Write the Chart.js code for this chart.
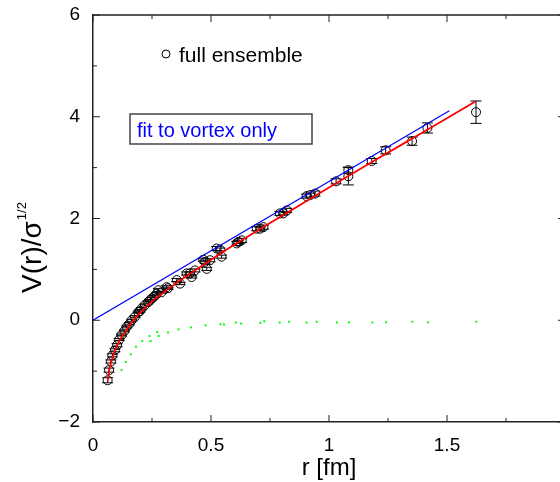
<!DOCTYPE html>
<html>
<head>
<meta charset="utf-8">
<script src="https://cdn.jsdelivr.net/npm/chart.js@4.4.0/dist/chart.umd.min.js"></script>
<style>
  html, body { margin: 0; padding: 0; background: #fff; overflow: hidden; }
  #wrap { width: 580px; height: 482px; }
</style>
</head>
<body>
<div id="wrap"><canvas id="chart" width="580" height="482"></canvas></div>
<script>
const FONT = '"Liberation Sans", Arial, Helvetica, sans-serif';

// full ensemble: r [fm], V(r)/sqrt(sigma), error
const rData = [0.062, 0.068, 0.076, 0.082, 0.093, 0.102, 0.111, 0.121, 0.133, 0.143,
  0.154, 0.164, 0.178, 0.192, 0.199, 0.206, 0.22, 0.234, 0.242, 0.249,
  0.26, 0.27, 0.277, 0.29, 0.312, 0.318, 0.355, 0.369, 0.397, 0.41,
  0.418, 0.432, 0.467, 0.475, 0.482, 0.496, 0.524, 0.538, 0.545, 0.609,
  0.616, 0.63, 0.694, 0.708, 0.722, 0.792, 0.806, 0.821, 0.905, 0.92,
  0.941, 1.03, 1.082, 1.082, 1.181, 1.24, 1.352, 1.417, 1.623];
const vData = [-1.18, -0.98, -0.81, -0.69, -0.59, -0.49, -0.38, -0.29, -0.21, -0.13,
  -0.07, 0.0, 0.07, 0.16, 0.18, 0.23, 0.30, 0.36, 0.39, 0.43,
  0.47, 0.52, 0.59, 0.55, 0.65, 0.63, 0.79, 0.72, 0.92, 0.92,
  0.85, 0.98, 1.19, 1.15, 1.01, 1.18, 1.41, 1.39, 1.25, 1.51,
  1.54, 1.57, 1.80, 1.80, 1.83, 2.10, 2.10, 2.16, 2.44, 2.46,
  2.49, 2.73, 2.95, 2.83, 3.13, 3.34, 3.52, 3.78, 4.09];
const vErr = [0.05, 0.04, 0.03, 0.03, 0.03, 0.03, 0.02, 0.02, 0.02, 0.02,
  0.02, 0.02, 0.02, 0.02, 0.02, 0.02, 0.02, 0.02, 0.02, 0.02,
  0.02, 0.02, 0.03, 0.02, 0.03, 0.02, 0.03, 0.02, 0.03, 0.03,
  0.02, 0.03, 0.03, 0.03, 0.03, 0.03, 0.04, 0.03, 0.03, 0.04,
  0.03, 0.04, 0.04, 0.03, 0.04, 0.04, 0.03, 0.04, 0.04, 0.04,
  0.05, 0.05, 0.06, 0.17, 0.05, 0.07, 0.08, 0.10, 0.22];

// difference points (green)
const rDiff = [0.121, 0.139, 0.16, 0.182, 0.209, 0.239, 0.244, 0.272, 0.278, 0.318,
  0.363, 0.415, 0.477, 0.54, 0.555, 0.605, 0.628, 0.709, 0.726, 0.791,
  0.83, 0.905, 0.948, 1.034, 1.085, 1.184, 1.242, 1.353, 1.419, 1.624];
const vDiff = [-0.98, -0.82, -0.67, -0.52, -0.41, -0.31, -0.41, -0.23, -0.31, -0.24,
  -0.18, -0.14, -0.10, -0.08, -0.085, -0.045, -0.065, -0.05, -0.02, -0.045,
  -0.03, -0.045, -0.03, -0.045, -0.04, -0.045, -0.04, -0.03, -0.04, -0.03];

// full fit curve (red)
const fitR = [0.062, 0.07, 0.08, 0.09, 0.10, 0.12, 0.14, 0.16, 0.18, 0.20,
  0.25, 0.30, 0.35, 0.40, 0.50, 0.60, 0.70, 0.80, 0.90, 1.00, 1.20, 1.40, 1.62];
const fitV = [-1.20, -0.95, -0.78, -0.63, -0.52, -0.34, -0.20, -0.07, 0.05, 0.15,
  0.37, 0.55, 0.72, 0.88, 1.19, 1.49, 1.77, 2.05, 2.33, 2.61, 3.16, 3.70, 4.30];

// fit to vortex only (blue)
const vortexR = [0, 1.51];
const vortexV = [0, 4.12];

const xTicks = [0, 0.5, 1, 1.5, 2];
const xMinor = [0.25, 0.75, 1.25, 1.75];
const yTicks = [-2, 0, 2, 4, 6];
const yMinor = [-1, 1, 3, 5];

const pts = (xs, ys) => xs.map((x, i) => ({ x: x, y: ys[i] }));

const decorations = {
  id: 'decorations',
  beforeDatasetsDraw(chart) {
    const { ctx, scales: { x, y } } = chart;
    // error bars
    ctx.save();
    ctx.strokeStyle = '#000';
    ctx.lineWidth = 1;
    rData.forEach((r, i) => {
      const px = x.getPixelForValue(r);
      const top = y.getPixelForValue(vData[i] + vErr[i]);
      const bot = y.getPixelForValue(vData[i] - vErr[i]);
      ctx.beginPath();
      ctx.moveTo(px, top); ctx.lineTo(px, bot);
      ctx.moveTo(px - 5.5, top); ctx.lineTo(px + 5.5, top);
      ctx.moveTo(px - 5.5, bot); ctx.lineTo(px + 5.5, bot);
      ctx.stroke();
    });
    ctx.restore();
  },
  afterDraw(chart) {
    const { ctx, chartArea: a, scales: { x, y } } = chart;
    ctx.save();
    ctx.strokeStyle = '#222';
    ctx.lineWidth = 1.5;
    // frame top / right
    ctx.beginPath();
    ctx.moveTo(a.left, a.top); ctx.lineTo(a.right, a.top); ctx.lineTo(a.right, a.bottom);
    ctx.stroke();
    // inward ticks
    ctx.lineWidth = 1;
    ctx.beginPath();
    const tickX = (v, len) => {
      const p = x.getPixelForValue(v);
      ctx.moveTo(p, a.bottom); ctx.lineTo(p, a.bottom - len);
      ctx.moveTo(p, a.top); ctx.lineTo(p, a.top + len);
    };
    const tickY = (v, len) => {
      const p = y.getPixelForValue(v);
      ctx.moveTo(a.left, p); ctx.lineTo(a.left + len, p);
      ctx.moveTo(a.right, p); ctx.lineTo(a.right - len, p);
    };
    xTicks.forEach(v => tickX(v, 7));
    xMinor.forEach(v => tickX(v, 4));
    yTicks.forEach(v => tickY(v, 7));
    yMinor.forEach(v => tickY(v, 4));
    ctx.stroke();

    // axis titles
    ctx.fillStyle = '#000';
    ctx.font = '24px ' + FONT;
    ctx.textAlign = 'center';
    ctx.textBaseline = 'alphabetic';
    ctx.fillText('r [fm]', x.getPixelForValue(1), 475);

    ctx.save();
    ctx.translate(41, 248);
    ctx.rotate(-Math.PI / 2);
    ctx.font = '28px ' + FONT;
    const main = 'V(r)/\u03c3';
    const wMain = ctx.measureText(main).width;
    ctx.font = '13px ' + FONT;
    const sup = '1/2';
    const wSup = ctx.measureText(sup).width;
    const start = -(wMain + wSup) / 2;
    ctx.textAlign = 'left';
    ctx.font = '28px ' + FONT;
    ctx.fillText(main, start, 0);
    ctx.font = '13px ' + FONT;
    ctx.fillText(sup, start + wMain + 1, -15);
    ctx.restore();

    // legend
    ctx.beginPath();
    ctx.arc(166, 54, 4, 0, Math.PI * 2);
    ctx.strokeStyle = '#000';
    ctx.lineWidth = 1;
    ctx.stroke();
    ctx.font = '21px ' + FONT;
    ctx.textAlign = 'left';
    ctx.fillText('full ensemble', 179, 62);

    // boxed label
    ctx.strokeStyle = '#444';
    ctx.lineWidth = 1.5;
    ctx.strokeRect(130, 114, 182, 30);
    ctx.fillStyle = '#0000ff';
    ctx.font = '20px ' + FONT;
    ctx.fillText('fit to vortex only', 137, 137);
    ctx.restore();
  }
};

new Chart(document.getElementById('chart'), {
  type: 'scatter',
  data: {
    datasets: [
      {
        label: 'fit',
        data: pts(fitR, fitV),
        showLine: true,
        borderColor: '#ff0000',
        borderWidth: 1.8,
        pointRadius: 0,
        cubicInterpolationMode: 'monotone'
      },
      {
        label: 'fit to vortex only',
        data: pts(vortexR, vortexV),
        showLine: true,
        borderColor: '#0000ff',
        borderWidth: 1.2,
        pointRadius: 0
      },
      {
        label: 'full ensemble',
        data: pts(rData, vData),
        pointStyle: 'circle',
        pointRadius: 4.5,
        borderColor: '#000',
        borderWidth: 1,
        backgroundColor: 'rgba(0,0,0,0)'
      },
      {
        label: 'vortex difference',
        data: pts(rDiff, vDiff),
        pointStyle: 'rect',
        pointRadius: 1.4,
        borderWidth: 0,
        backgroundColor: '#00ff00'
      }
    ]
  },
  options: {
    responsive: false,
    animation: false,
    events: [],
    layout: { padding: { top: 15, right: 15, left: 0, bottom: 0 } },
    plugins: { legend: { display: false }, tooltip: { enabled: false } },
    scales: {
      x: {
        type: 'linear',
        min: 0,
        max: 2,
        afterBuildTicks: s => { s.ticks = xTicks.map(v => ({ value: v })); },
        afterFit: s => { s.height = 60; s.paddingLeft = 0; s.paddingRight = 0; },
        grid: { display: false, drawTicks: false },
        border: { display: true, color: '#222', width: 1.5 },
        ticks: {
          color: '#000',
          font: { family: FONT, size: 19 },
          padding: 12,
          maxRotation: 0,
          autoSkip: false,
          callback: v => String(v)
        }
      },
      y: {
        type: 'linear',
        min: -2,
        max: 6,
        afterBuildTicks: s => { s.ticks = yTicks.map(v => ({ value: v })); },
        afterFit: s => { s.width = 93; s.paddingTop = 0; s.paddingBottom = 0; },
        grid: { display: false, drawTicks: false },
        border: { display: true, color: '#222', width: 1.5 },
        ticks: {
          color: '#000',
          font: { family: FONT, size: 19 },
          padding: 13,
          autoSkip: false,
          callback: v => String(v).replace('-', '\u2212')
        }
      }
    }
  },
  plugins: [decorations]
});
</script>
</body>
</html>
